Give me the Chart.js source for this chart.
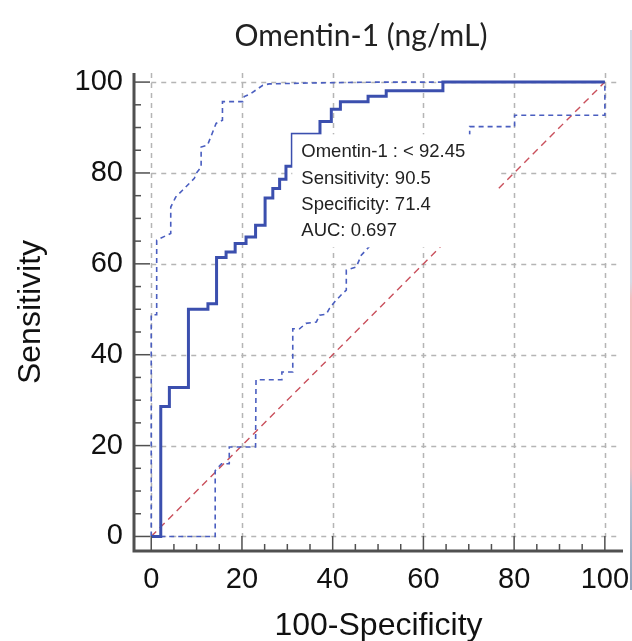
<!DOCTYPE html>
<html>
<head>
<meta charset="utf-8">
<script src="https://cdn.jsdelivr.net/npm/chart.js@4.4.0/dist/chart.umd.min.js"></script>
<style>
  body { margin: 0; background: #fff; }
  #wrap { position: relative; width: 632px; height: 641px; overflow: hidden; }
  #edge {
    position: absolute; left: 630px; top: 30px; width: 2px; height: 560px;
    background: linear-gradient(to bottom, #d5dce6 0%, #d5dce6 45%, #f3c0c0 48%, #f3c0c0 78%, #b7c3d3 82%, #93a4bb 100%);
  }
</style>
</head>
<body>
<div id="wrap">
  <canvas id="roc" width="632" height="641"></canvas>
  <div id="edge"></div>
</div>
<script>
// tick values
const xTicks = [0, 20, 40, 60, 80, 100];
const yTicks = [0, 20, 40, 60, 80, 100];
const minorTicks = [0, 5, 10, 15, 20, 25, 30, 35, 40, 45, 50, 55, 60, 65, 70, 75, 80, 85, 90, 95, 100];

// ROC curve as [100-specificity, sensitivity]
const rocCurve = [
  [0, 0], [2.1, 0], [2.1, 28.6], [4, 28.6], [4, 32.8], [8.2, 32.8], [8.2, 50], [12.5, 50],
  [12.5, 51.2], [14.4, 51.2], [14.4, 61.4], [16.5, 61.4], [16.5, 62.6], [18.5, 62.6],
  [18.5, 64.5], [20.9, 64.5], [20.9, 65.9], [23, 65.9], [23, 68.5], [25.1, 68.5],
  [25.1, 74.5], [26.8, 74.5], [26.8, 76.6], [28.3, 76.6], [28.3, 78.6], [29.7, 78.6],
  [29.7, 81.5], [31.1, 81.5], [31.1, 88.5], [37.2, 88.5], [37.2, 91.3], [39.7, 91.3],
  [39.7, 94], [41.7, 94], [41.7, 95.7], [47.8, 95.7], [47.8, 96.9], [51.8, 96.9],
  [51.8, 98.1], [64.3, 98.1], [64.3, 100], [100, 100]
];

// confidence bounds
const upperCI = [
  [0, 0], [0, 48.8], [1.2, 48.8], [1.2, 65.2], [4.3, 66.7], [4.3, 72.5], [5.4, 74.7],
  [6.9, 76.2], [9.5, 78.8], [9.9, 79.9], [11, 81.3], [11, 85.7], [12.4, 86.1], [14.3, 90.9],
  [15.7, 91.6], [15.7, 95.7], [20.2, 95.7], [20.5, 96.8], [22, 97.5], [23, 98.2],
  [24.6, 99.3], [26, 99.6], [35, 99.8], [50, 100], [100, 100]
];
const lowerCI = [
  [0, 0], [14.1, 0], [14.1, 14.5], [15.5, 16], [17.2, 16], [17.2, 19.7], [23, 19.7],
  [23.1, 34.5], [28.8, 34.5], [28.8, 36.2], [31.2, 36.2], [31.2, 45.7], [32.7, 45.7],
  [34.1, 46.9], [36.4, 47.2], [37.1, 48.7], [38.6, 48.9], [39.3, 50.2], [40.4, 51.6],
  [42.2, 53.5], [43, 54.2], [43, 58.6], [45.2, 59.3], [46.3, 61.9], [47.7, 63.4],
  [70.2, 88.3], [70.2, 90.2], [80.1, 90.2], [80.1, 92.7], [100, 92.7], [100, 100]
];
const diagonal = [[0, 0], [100, 100]];

// optimal criterion point and its label
const cutoffPoint = [31.1, 88.5];
const infoLines = ['Omentin-1 : < 92.45', 'Sensitivity: 90.5', 'Specificity: 71.4', 'AUC: 0.697'];

const chartTitle = 'Omentin-1 (ng/mL)';
const xTitle = '100-Specificity';
const yTitle = 'Sensitivity';

const sans = "'Liberation Sans', Arial, sans-serif";
const toXY = pts => pts.map(p => ({ x: p[0], y: p[1] }));

const rocFrame = {
  id: 'rocFrame',
  beforeDatasetsDraw(chart) {
    const { ctx, chartArea: a, scales: { x, y } } = chart;
    ctx.save();
    ctx.strokeStyle = '#b5b5b5';
    ctx.lineWidth = 1.5;
    ctx.setLineDash([5, 5]);
    const y0 = y.getPixelForValue(0);
    const x0 = x.getPixelForValue(0);
    xTicks.forEach(v => {
      const px = Math.round(x.getPixelForValue(v)) + 0.5;
      ctx.beginPath();
      ctx.moveTo(px, a.top);
      ctx.lineTo(px, y0);
      ctx.stroke();
    });
    yTicks.forEach(v => {
      const py = Math.round(y.getPixelForValue(v)) + 0.5;
      ctx.beginPath();
      ctx.moveTo(x0, py);
      ctx.lineTo(a.right - 3, py);
      ctx.stroke();
    });
    ctx.restore();
  },
  afterDatasetsDraw(chart) {
    const { ctx, chartArea: a, scales: { x, y } } = chart;
    ctx.save();

    // white label box anchored at the cutoff point
    const bx = x.getPixelForValue(cutoffPoint[0]);
    const by = y.getPixelForValue(cutoffPoint[1]);
    ctx.fillStyle = '#fff';
    ctx.fillRect(bx, by, 205, 113);
    ctx.fillStyle = '#222';
    ctx.font = '18.5px ' + sans;
    ctx.textBaseline = 'middle';
    ctx.textAlign = 'left';
    infoLines.forEach((t, i) => ctx.fillText(t, bx + 9, by + 18 + i * 26.3));

    // axes and inward ticks
    ctx.strokeStyle = '#505050';
    ctx.lineWidth = 3;
    ctx.beginPath();
    ctx.moveTo(a.left, a.top);
    ctx.lineTo(a.left, a.bottom);
    ctx.lineTo(a.right, a.bottom);
    ctx.stroke();
    ctx.lineWidth = 1.5;
    minorTicks.forEach(v => {
      const len = xTicks.includes(v) ? 15 : 7;
      const px = x.getPixelForValue(v);
      ctx.beginPath();
      ctx.moveTo(px, a.bottom);
      ctx.lineTo(px, a.bottom - len);
      ctx.stroke();
    });
    minorTicks.forEach(v => {
      const len = yTicks.includes(v) ? 16 : 7;
      const py = y.getPixelForValue(v);
      ctx.beginPath();
      ctx.moveTo(a.left, py);
      ctx.lineTo(a.left + len, py);
      ctx.stroke();
    });

    // chart title
    ctx.fillStyle = '#222';
    ctx.font = '30px Lato';
    ctx.textAlign = 'center';
    ctx.fillText(chartTitle, 361, 36);
    ctx.restore();
  }
};

new Chart(document.getElementById('roc'), {
  type: 'scatter',
  data: {
    datasets: [
      { data: toXY(rocCurve), showLine: true, borderColor: '#3b4fae', borderWidth: 3, pointRadius: 0, order: 1 },
      { data: toXY(upperCI), showLine: true, borderColor: '#4a5ec0', borderWidth: 1.6, borderDash: [5, 4], pointRadius: 0, order: 2 },
      { data: toXY(lowerCI), showLine: true, borderColor: '#4a5ec0', borderWidth: 1.6, borderDash: [5, 4], pointRadius: 0, order: 3 },
      { data: toXY(diagonal), showLine: true, borderColor: '#c9505c', borderWidth: 1.4, borderDash: [7, 5], pointRadius: 0, order: 4 }
    ]
  },
  options: {
    responsive: false,
    animation: false,
    layout: { padding: { top: 73, right: 9, left: 0, bottom: 0 } },
    plugins: { legend: { display: false }, tooltip: { enabled: false }, title: { display: false } },
    scales: {
      x: {
        type: 'linear', min: -3.8, max: 104,
        afterBuildTicks: s => { s.ticks = xTicks.map(v => ({ value: v })); },
        afterFit: s => { s.height = 90; s.paddingLeft = 0; s.paddingRight = 0; },
        grid: { display: false, drawTicks: false },
        border: { display: false },
        ticks: { padding: 12, color: '#111', font: { family: sans, size: 29 }, maxRotation: 0, autoSkip: false, callback: v => String(v) },
        title: { display: true, text: xTitle, color: '#111', font: { family: sans, size: 32 }, padding: { top: 0, bottom: -4 } }
      },
      y: {
        type: 'linear', min: -3.2, max: 102,
        afterBuildTicks: s => { s.ticks = yTicks.map(v => ({ value: v })); },
        afterFit: s => { s.width = 134; s.paddingTop = 0; s.paddingBottom = 0; },
        grid: { display: false, drawTicks: false },
        border: { display: false },
        ticks: { padding: 11, color: '#111', font: { family: sans, size: 29 }, autoSkip: false, callback: v => String(v) },
        title: { display: true, text: yTitle, color: '#111', font: { family: sans, size: 32 }, padding: { top: 12, bottom: 0 } }
      }
    }
  },
  plugins: [rocFrame]
});
</script>
</body>
</html>
